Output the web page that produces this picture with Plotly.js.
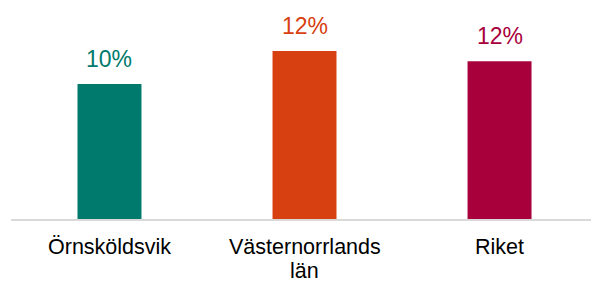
<!DOCTYPE html>
<html>
<head>
<meta charset="utf-8">
<script src="https://cdn.plot.ly/plotly-3.0.1.min.js"></script>
<style>html,body{margin:0;padding:0;background:#fff;}#chart{width:591px;height:282px;}</style>
</head>
<body>
<div id="chart"></div>
<script>
const categories = ["Örnsköldsvik", "Västernorrlands<br>län", "Riket"];
const values = [0.100, 0.1244, 0.1168];
const valueLabels = ["10%", "12%", "12%"];
const colors = ["#007A6C", "#D74010", "#A8003B"];

const FONT = "Liberation Sans, Arial, sans-serif";

const trace = {
  type: "bar",
  x: categories,
  y: values,
  marker: {color: colors},
  width: 0.328,
  hoverinfo: "none"
};

const annotations = [];
categories.forEach((c, i) => {
  annotations.push({
    x: c, y: values[i], xref: "x", yref: "y",
    text: valueLabels[i], showarrow: false,
    yanchor: "bottom", yshift: 10,
    font: {family: FONT, size: 23, color: colors[i]}
  });
  c.split("<br>").forEach((line, j) => {
    annotations.push({
      x: c, y: 0, xref: "x", yref: "paper",
      text: line, showarrow: false, borderpad: 0,
      yanchor: "top", yshift: -15 - j * 24,
      font: {family: FONT, size: 21.5, color: "#000"}
    });
  });
});

const layout = {
  width: 591, height: 282,
  margin: {l: 11, r: 0, t: 10, b: 63},
  paper_bgcolor: "#fff", plot_bgcolor: "#fff",
  showlegend: false,
  xaxis: {
    type: "category",
    range: [-0.505, 2.469],
    showline: true, linecolor: "#D9D9D9", linewidth: 2,
    showgrid: false, zeroline: false, ticks: "",
    showticklabels: false,
    fixedrange: true
  },
  yaxis: {
    range: [0, 0.1548],
    visible: false, showgrid: false, zeroline: false,
    fixedrange: true
  },
  annotations: annotations
};

Plotly.newPlot("chart", [trace], layout, {displayModeBar: false, staticPlot: true});
</script>
</body>
</html>
